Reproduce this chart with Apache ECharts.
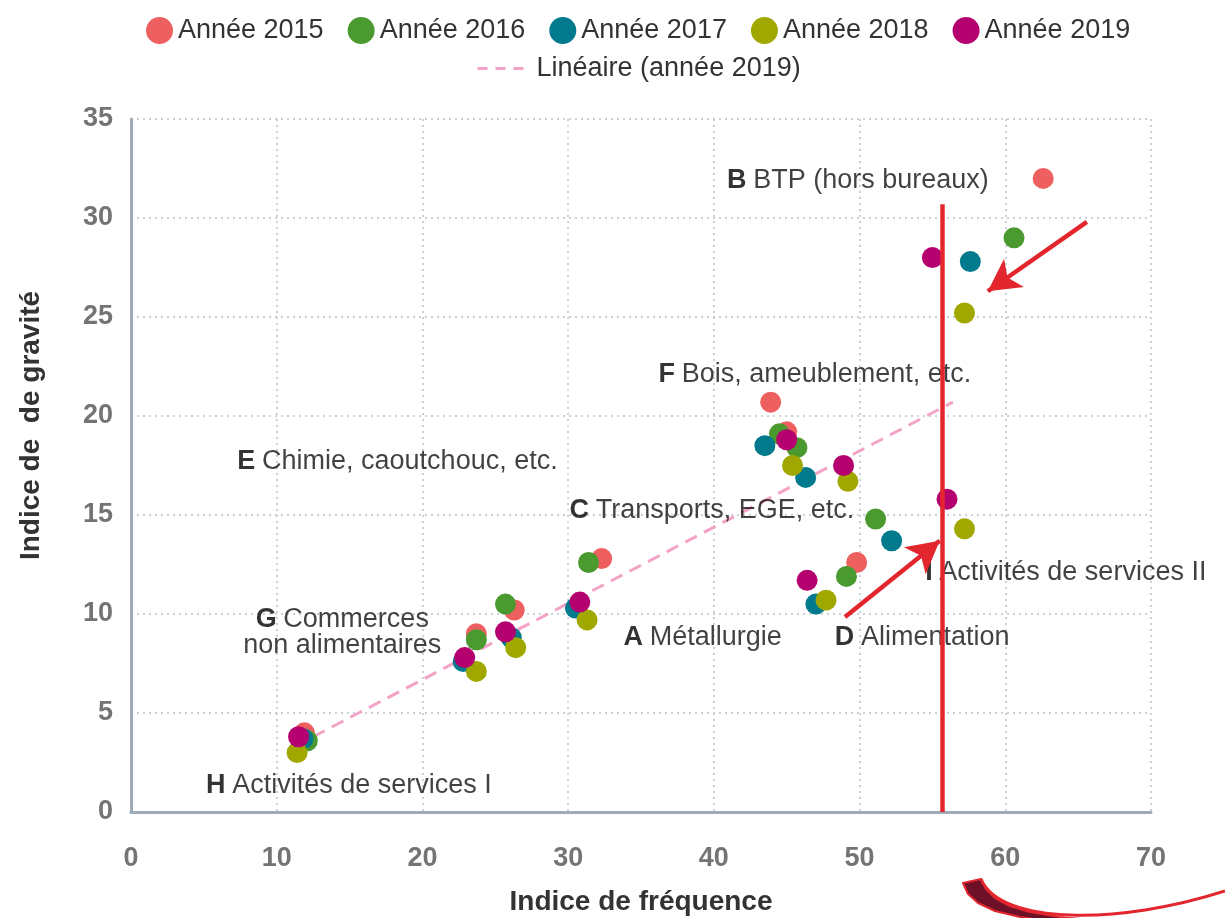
<!DOCTYPE html>
<html>
<head>
<meta charset="utf-8">
<style>
  html, body { margin: 0; padding: 0; background: #fff; }
  #main { width: 1225px; height: 918px; }
</style>
<script src="https://cdn.jsdelivr.net/npm/echarts@6/dist/echarts.min.js"></script>
</head>
<body>
<div id="main"></div>
<script>
// indice de fréquence (x) / indice de gravité (y), une liste par année
// ordre des secteurs : H, G, E?, C/A, F, E, D, I, B
var x2015 = [11.9, 23.7, 26.3, 32.3, 43.9, 45.0, 49.8, 62.6];
var y2015 = [4.0, 9.0, 10.2, 12.8, 20.7, 19.2, 12.6, 32.0];
var x2016 = [12.1, 23.7, 25.7, 31.4, 44.5, 45.7, 49.1, 51.1, 60.6];
var y2016 = [3.6, 8.7, 10.5, 12.6, 19.1, 18.4, 11.9, 14.8, 29.0];
var x2017 = [11.8, 22.8, 26.1, 30.5, 43.5, 46.3, 47.0, 52.2, 57.6];
var y2017 = [3.7, 7.6, 8.8, 10.3, 18.5, 16.9, 10.5, 13.7, 27.8];
var x2018 = [11.4, 23.7, 26.4, 31.3, 45.4, 49.2, 47.7, 57.2, 57.2];
var y2018 = [3.0, 7.1, 8.3, 9.7, 17.5, 16.7, 10.7, 14.3, 25.2];
var x2019 = [11.5, 22.9, 25.7, 30.8, 45.0, 48.9, 46.4, 56.0, 55.0];
var y2019 = [3.8, 7.8, 9.1, 10.6, 18.8, 17.5, 11.7, 15.8, 28.0];

// droite de tendance (année 2019), extrémités
var trendX = [12.5, 56.4];
var trendY = [3.8, 20.7];

// annotations rouges
var redLineX = 55.7;
var redLineTop = 30.7;
var arrowFrom = [[65.6, 29.8], [49.0, 9.85]];
var arrowTo = [[58.8, 26.3], [55.5, 13.7]];

var yearNames = ['Année 2015', 'Année 2016', 'Année 2017', 'Année 2018', 'Année 2019'];
var trendName = 'Linéaire (année 2019)';

// étiquettes des secteurs : lettre, libellé, position
var sectorLetters = ['B', 'F', 'E', 'C', 'I', 'A', 'D', 'G', 'H'];
var sectorNames = ['BTP (hors bureaux)', 'Bois, ameublement, etc.', 'Chimie, caoutchouc, etc.',
  'Transports, EGE, etc.', 'Activités de services II', 'Métallurgie', 'Alimentation',
  'Commerces\nnon alimentaires', 'Activités de services I'];
var sectorX = [40.9, 36.2, 7.3, 30.1, 54.5, 33.8, 48.3, 14.5, 5.15];
var sectorY = [31.9, 22.1, 17.7, 15.25, 12.1, 8.8, 8.8, 9.05, 1.36];

var colors = ['#ee6060', '#4a9a30', '#007a8c', '#a0a800', '#b5006f'];
var FONT = '"Liberation Sans", Arial, sans-serif';

function pairs(xs, ys) {
  return xs.map(function (x, i) { return [x, ys[i]]; });
}

var yearData = [pairs(x2015, y2015), pairs(x2016, y2016), pairs(x2017, y2017),
  pairs(x2018, y2018), pairs(x2019, y2019)];

var series = yearNames.map(function (name, i) {
  return {
    name: name,
    type: 'scatter',
    symbolSize: 21,
    itemStyle: { color: colors[i], opacity: 1 },
    data: yearData[i],
    z: 3
  };
});

series.push({
  name: trendName,
  type: 'line',
  symbol: 'none',
  lineStyle: { color: '#f4a3c6', width: 3, type: [13, 8] },
  itemStyle: { color: '#f4a3c6' },
  data: pairs(trendX, trendY),
  z: 2
});

series.push({
  name: 'secteurs',
  type: 'scatter',
  symbolSize: 0,
  silent: true,
  data: sectorX.map(function (x, i) {
    var isG = sectorLetters[i] === 'G';
    return {
      value: [x, sectorY[i]],
      label: {
        show: true,
        position: 'inside',
        align: isG ? 'center' : 'left',
        verticalAlign: 'middle',
        formatter: isG ? '{b|G}  {n|Commerces}\n{n|non alimentaires}'
          : '{b|' + sectorLetters[i] + '}  {n|' + sectorNames[i] + '}',
        rich: {
          b: { fontFamily: FONT, fontSize: 27, fontWeight: 'bold', color: '#000', lineHeight: 26 },
          n: { fontFamily: FONT, fontSize: 27, color: '#111', lineHeight: 26 }
        }
      }
    };
  }),
  z: 4
});

series.push({
  name: 'annotations',
  type: 'scatter',
  data: [],
  silent: true,
  markLine: {
    silent: true,
    animation: false,
    label: { show: false },
    data: [
      [{ coord: [redLineX, redLineTop], symbol: 'none' },
       { coord: [redLineX, 0], symbol: 'none' }],
      [{ coord: arrowFrom[0], symbol: 'none' },
       { coord: arrowTo[0], symbol: 'arrow', symbolSize: [26, 32] }],
      [{ coord: arrowFrom[1], symbol: 'none' },
       { coord: arrowTo[1], symbol: 'arrow', symbolSize: [26, 32] }]
    ],
    lineStyle: { color: '#e3262e', width: 4.5, type: 'solid' },
    itemStyle: { color: '#e3262e' }
  },
  z: 5
});

var chart = echarts.init(document.getElementById('main'));
chart.setOption({
  animation: false,
  backgroundColor: '#fff',
  textStyle: { fontFamily: FONT },
  legend: [{
    data: yearNames,
    top: 12,
    left: 141,
    icon: 'circle',
    itemWidth: 27,
    itemHeight: 27,
    itemGap: 24,
    textStyle: { fontFamily: FONT, fontSize: 27, color: '#333' }
  }, {
    data: [trendName],
    top: 50,
    left: 471,
    itemWidth: 54,
    itemHeight: 24,
    itemStyle: { opacity: 0 },
    lineStyle: { color: '#f4a3c6', width: 3, type: [10, 8] },
    textStyle: { fontFamily: FONT, fontSize: 27, color: '#333' }
  }],
  grid: { left: 131, right: 74, top: 119, bottom: 106, outerBoundsMode: 'none' },
  xAxis: {
    type: 'value',
    min: 0,
    max: 70,
    interval: 10,
    name: 'Indice de fréquence',
    nameLocation: 'middle',
    nameGap: 76,
    nameTextStyle: { fontFamily: FONT, fontSize: 28, fontWeight: 'bold', color: '#333' },
    axisLine: { show: true, lineStyle: { color: '#9eabb6', width: 3 } },
    axisTick: { show: false },
    axisLabel: { margin: 33, fontFamily: FONT, fontSize: 27, fontWeight: 'bold', color: '#747474' },
    splitLine: { show: true, lineStyle: { color: '#b9c3cc', type: [2, 4], width: 1.5 } }
  },
  yAxis: {
    type: 'value',
    min: 0,
    max: 35,
    interval: 5,
    name: 'Indice de  de gravité',
    nameLocation: 'middle',
    nameGap: 86,
    nameTextStyle: { fontFamily: FONT, fontSize: 28, fontWeight: 'bold', color: '#333', padding: [0, 0, 0, 80] },
    axisLine: { show: true, lineStyle: { color: '#9eabb6', width: 3 } },
    axisTick: { show: false },
    axisLabel: { margin: 18, fontFamily: FONT, fontSize: 27, fontWeight: 'bold', color: '#747474' },
    splitLine: { show: true, lineStyle: { color: '#b9c3cc', type: [2, 4], width: 1.5 } }
  },
  graphic: [{
    type: 'polygon',
    silent: true,
    shape: {
      points: [[963, 883], [968, 894], [978, 903], [995, 911], [1020, 917], [1040, 920],
        [1090, 920], [1060, 917], [1030, 912], [1010, 906], [995, 898], [986, 889], [981, 879]]
    },
    style: { fill: '#6e1028', stroke: '#e3262e', lineWidth: 2, lineJoin: 'round' }
  }, {
    type: 'bezierCurve',
    silent: true,
    shape: { x1: 981, y1: 879, cpx1: 1000, cpy1: 925, cpx2: 1120, cpy2: 925, x2: 1225, y2: 891 },
    style: { stroke: '#e3262e', lineWidth: 3, fill: null }
  }],
  series: series
});
</script>
</body>
</html>
